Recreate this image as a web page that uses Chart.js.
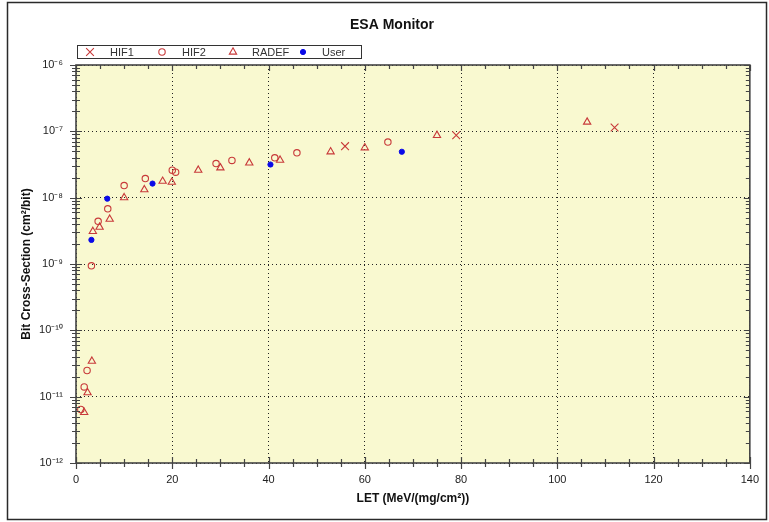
<!DOCTYPE html>
<html>
<head>
<meta charset="utf-8">
<script src="https://cdn.jsdelivr.net/npm/chart.js@4/dist/chart.umd.min.js"></script>
<style>
html,body{margin:0;padding:0;background:#fff;}
#wrap{width:769px;height:522px;position:relative;}
canvas{display:block;}
</style>
</head>
<body>
<div id="wrap"><canvas id="c" width="769" height="522"></canvas></div>
<script>
// ---- data (LET in MeV/(mg/cm²), cross-section in cm²/bit) ----
const hif1LET = [55.9, 79.0, 111.9];
const hif1XS  = [5.98e-8, 8.7e-8, 1.14e-7];

const hif2LET = [1.0, 1.7, 2.3, 3.2, 4.6, 6.6, 10.0, 14.4, 20.0, 20.7, 29.1, 32.4, 41.3, 45.9, 64.8];
const hif2XS  = [6.4e-12, 1.4e-11, 2.48e-11, 9.4e-10, 4.4e-9, 6.8e-9, 1.52e-8, 1.94e-8, 2.6e-8, 2.42e-8, 3.27e-8, 3.64e-8, 3.98e-8, 4.75e-8, 6.89e-8];

const radefLET = [1.7, 2.4, 3.3, 3.5, 4.9, 7.0, 10.0, 14.2, 18.0, 19.9, 25.4, 30.0, 36.0, 42.4, 52.9, 60.0, 75.0, 106.2];
const radefXS  = [5.8e-12, 1.15e-11, 3.43e-11, 3.1e-9, 3.6e-9, 4.75e-9, 1.0e-8, 1.32e-8, 1.77e-8, 1.71e-8, 2.6e-8, 2.82e-8, 3.35e-8, 3.68e-8, 4.92e-8, 5.66e-8, 8.7e-8, 1.38e-7];

const userLET = [3.2, 6.5, 15.9, 40.4, 67.7];
const userXS  = [2.31e-9, 9.66e-9, 1.63e-8, 3.16e-8, 4.92e-8];

const seriesNames = ['HIF1', 'HIF2', 'RADEF', 'User'];
const xTickValues = [0, 20, 40, 60, 80, 100, 120, 140];
const yDecadeExps = [-12, -11, -10, -9, -8, -7, -6];

const titleText = 'ESA Monitor';
const xTitle = 'LET (MeV/(mg/cm\u00B2))';
const yTitle = 'Bit Cross-Section (cm\u00B2/bit)';

// ---- helpers ----
const RED = '#c83a3a';
const BLUE = '#0a0ae8';
const SUP = {'-':'\u207B','0':'\u2070','1':'\u00B9','2':'\u00B2','3':'\u00B3','4':'\u2074','5':'\u2075','6':'\u2076','7':'\u2077','8':'\u2078','9':'\u2079'};
function sup(n){ return String(n).split('').map(c => SUP[c] || c).join(''); }
function pts(xs, ys){ return xs.map((x,i) => ({x:x, y:ys[i]})); }

const datasets = [
  {label: seriesNames[0], data: pts(hif1LET, hif1XS), pointStyle:'crossRot', radius:5.5, borderColor:RED, backgroundColor:'rgba(0,0,0,0)', borderWidth:1.1},
  {label: seriesNames[1], data: pts(hif2LET, hif2XS), pointStyle:'circle', radius:3.2, borderColor:RED, backgroundColor:'rgba(0,0,0,0)', borderWidth:1.1},
  {label: seriesNames[2], data: pts(radefLET, radefXS), pointStyle:'triangle', radius:4.2, borderColor:RED, backgroundColor:'rgba(0,0,0,0)', borderWidth:1.1},
  {label: seriesNames[3], data: pts(userLET, userXS), pointStyle:'circle', radius:2.6, borderColor:BLUE, backgroundColor:BLUE, borderWidth:1}
];
datasets.forEach(d => { d.showLine = false; d.pointRadius = d.radius; d.pointHoverRadius = d.radius; });

const FONT = '"Liberation Sans", Arial, sans-serif';

const decor = {
  id: 'decor',
  beforeDraw(chart){
    const {ctx, chartArea:a} = chart;
    ctx.save();
    ctx.fillStyle = '#fff';
    ctx.fillRect(0,0,chart.width,chart.height);
    ctx.fillStyle = '#f9f9d0';
    ctx.fillRect(a.left, a.top, a.right-a.left, a.bottom-a.top);
    ctx.restore();
  },
  afterDraw(chart){
    const {ctx, chartArea:a} = chart;
    const xs = chart.scales.x, ys = chart.scales.y;
    ctx.save();
    // outer frame
    ctx.strokeStyle = '#2a2a2a';
    ctx.lineWidth = 1.5;
    ctx.strokeRect(7.5, 2.5, 759, 517);
    // plot frame
    ctx.strokeStyle = '#444';
    ctx.lineWidth = 1.6;
    ctx.strokeRect(a.left, a.top, a.right-a.left, a.bottom-a.top);
    // tick marks
    ctx.lineWidth = 1.2;
    ctx.beginPath();
    for (let v = 0; v <= 140; v += 5){
      const px = Math.round(xs.getPixelForValue(v)) + 0.5;
      const maj = v % 20 === 0;
      const L = maj ? 6 : 4;
      ctx.moveTo(px, a.bottom - L); ctx.lineTo(px, a.bottom + L);
      ctx.moveTo(px, a.top); ctx.lineTo(px, a.top + L);
    }
    for (let e = -12; e <= -6; e++){
      for (let m = 1; m <= 9; m++){
        const v = m * Math.pow(10, e);
        if (v > 1.0000001e-6) break;
        const py = Math.round(ys.getPixelForValue(v)) + 0.5;
        const maj = m === 1;
        const L = maj ? 6 : 4;
        ctx.moveTo(a.left - L, py); ctx.lineTo(a.left + L, py);
        ctx.moveTo(a.right - L, py); ctx.lineTo(a.right, py);
      }
    }
    ctx.stroke();
    // title
    ctx.fillStyle = '#111';
    ctx.font = 'bold 14px ' + FONT;
    ctx.textAlign = 'center';
    ctx.textBaseline = 'middle';
    ctx.fillText(titleText, 392, 25);
    // legend box
    ctx.strokeStyle = '#333';
    ctx.lineWidth = 1;
    ctx.strokeRect(77.5, 45.5, 284, 13);
    const mx = [90, 162, 233, 303];
    const tx = [110, 182, 252, 322];
    ctx.font = '11px ' + FONT;
    ctx.textAlign = 'left';
    chart.data.datasets.forEach((d, i) => {
      ctx.strokeStyle = d.borderColor;
      ctx.fillStyle = d.backgroundColor;
      ctx.lineWidth = d.borderWidth;
      Chart.helpers.drawPoint(ctx, {pointStyle: d.pointStyle, radius: d.radius, rotation: 0, borderWidth: d.borderWidth}, mx[i], 52);
      ctx.fillStyle = '#333';
      ctx.fillText(d.label, tx[i], 52.5);
    });
    ctx.restore();
  }
};

new Chart(document.getElementById('c'), {
  type: 'scatter',
  data: {datasets: datasets},
  options: {
    responsive: false,
    animation: false,
    events: [],
    layout: {padding: {left: 0, right: 15, top: 65, bottom: 0}},
    plugins: {legend: {display: false}, title: {display: false}, tooltip: {enabled: false}},
    scales: {
      x: {
        type: 'linear', position: 'bottom', min: 0, max: 140,
        afterBuildTicks(s){ s.ticks = xTickValues.map(v => ({value: v})); },
        afterFit(s){ s.height = 59; },
        ticks: {padding: 10, color: '#222', font: {family: FONT, size: 11}, maxRotation: 0, autoSkip: false},
        grid: {drawTicks: false, color: '#222', lineWidth: 1},
        border: {display: false, dash: [1, 3]},
        title: {display: true, text: xTitle, color: '#111', font: {family: FONT, size: 12, weight: 'bold'}, padding: {top: 0, bottom: 16}}
      },
      y: {
        type: 'logarithmic', position: 'left', min: 1e-12, max: 1e-6,
        afterBuildTicks(s){ s.ticks = yDecadeExps.map(e => ({value: Math.pow(10, e)})); },
        afterFit(s){ s.width = 76; },
        ticks: {padding: 13, color: '#222', font: {family: FONT, size: 11}, autoSkip: false,
          callback(v){ return '10' + sup(Math.round(Math.log10(v))); }},
        grid: {drawTicks: false, color: '#222', lineWidth: 1},
        border: {display: false, dash: [1, 3]},
        title: {display: true, text: yTitle, color: '#111', font: {family: FONT, size: 12, weight: 'bold'}, padding: {top: 19, bottom: 0}}
      }
    }
  },
  plugins: [decor]
});
</script>
</body>
</html>
